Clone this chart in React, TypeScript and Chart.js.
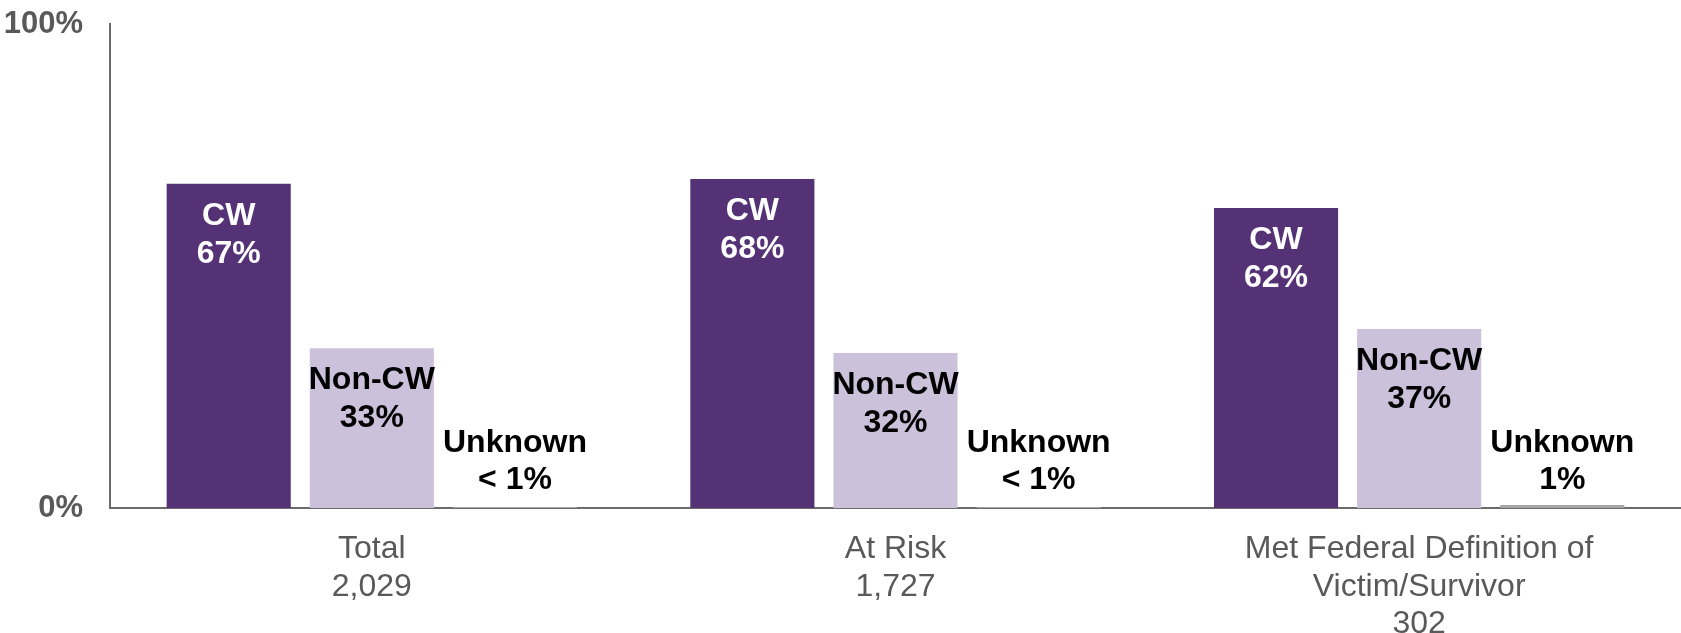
import React, { useEffect, useRef } from "react";
import { Chart, registerables } from "chart.js";

Chart.register(...registerables);

const categories: string[][] = [
  ["Total", "2,029"],
  ["At Risk", "1,727"],
  ["Met Federal Definition of", "Victim/Survivor", "302"],
];
const seriesNames = ["CW", "Non-CW", "Unknown"];
const cwValues = [67, 68, 62];
const nonCwValues = [33, 32, 37];
const unknownValues = [0.2, 0.2, 0.6];
const cwText = ["67%", "68%", "62%"];
const nonCwText = ["33%", "32%", "37%"];
const unknownText = ["< 1%", "< 1%", "1%"];
const yTicks = [0, 100];

const FONT = "'Liberation Sans', Arial, Helvetica, sans-serif";
const GRAY_TEXT = "#595959";
const AXIS = "#6b6b6b";

const labelPlugin = {
  id: "barLabels",
  afterDatasetsDraw(chart: any) {
    const ctx = chart.ctx;
    const texts = [cwText, nonCwText, unknownText];
    ctx.save();
    ctx.font = `bold 32px ${FONT}`;
    ctx.textAlign = "center";
    ctx.textBaseline = "middle";
    chart.data.datasets.forEach((ds: any, di: number) => {
      const meta = chart.getDatasetMeta(di);
      meta.data.forEach((el: any, i: number) => {
        const lines = [seriesNames[di], texts[di][i]];
        if (di === 2) {
          const base = chart.scales.y.getPixelForValue(0);
          ctx.fillStyle = "#000000";
          ctx.fillText(lines[0], el.x, base - 28 - 37);
          ctx.fillText(lines[1], el.x, base - 28);
        } else {
          ctx.fillStyle = di === 0 ? "#ffffff" : "#000000";
          ctx.fillText(lines[0], el.x, el.y + 32);
          ctx.fillText(lines[1], el.x, el.y + 32 + 38);
        }
      });
    });
    ctx.restore();
  },
};

export default function App() {
  const ref = useRef<HTMLCanvasElement | null>(null);
  useEffect(() => {
    if (!ref.current) return;
    const chart = new Chart(ref.current, {
      type: "bar",
      data: {
        labels: categories,
        datasets: [
          { label: seriesNames[0], data: cwValues, backgroundColor: "#553275" },
          { label: seriesNames[1], data: nonCwValues, backgroundColor: "#cbc1db" },
          { label: seriesNames[2], data: unknownValues, backgroundColor: "#a6a6a6" },
        ],
      },
      options: {
        animation: false,
        responsive: true,
        maintainAspectRatio: false,
        layout: { padding: { top: 24, right: 0, left: 0, bottom: 0 } },
        datasets: {
          bar: { categoryPercentage: 0.82, barPercentage: 0.867 },
        },
        plugins: {
          legend: { display: false },
          tooltip: { enabled: false },
        },
        scales: {
          x: {
            grid: { display: false, drawTicks: false },
            border: { display: true, color: AXIS, width: 2 },
            ticks: {
              color: GRAY_TEXT,
              font: { family: FONT, size: 32, lineHeight: 1.16 },
              padding: 23,
              maxRotation: 0,
              autoSkip: false,
            },
            afterFit: (s: any) => {
              s.height = 125;
              s.paddingLeft = 0;
              s.paddingRight = 0;
            },
          },
          y: {
            min: 0,
            max: 100,
            afterBuildTicks: (s: any) => {
              s.ticks = yTicks.map((v) => ({ value: v }));
            },
            grid: { display: false, drawTicks: false },
            border: { display: true, color: AXIS, width: 2 },
            ticks: {
              color: GRAY_TEXT,
              font: { family: FONT, size: 31, weight: "bold" },
              padding: 27,
              callback: (v: any) => `${v}%`,
            },
            afterFit: (s: any) => {
              s.width = 110;
              s.paddingTop = 0;
              s.paddingBottom = 0;
            },
          },
        },
      },
      plugins: [labelPlugin],
    });
    return () => chart.destroy();
  }, []);
  return (
    <div style={{ position: "fixed", left: 0, top: 0, width: 1681, height: 633, background: "#fff" }}>
      <canvas ref={ref} />
    </div>
  );
}
